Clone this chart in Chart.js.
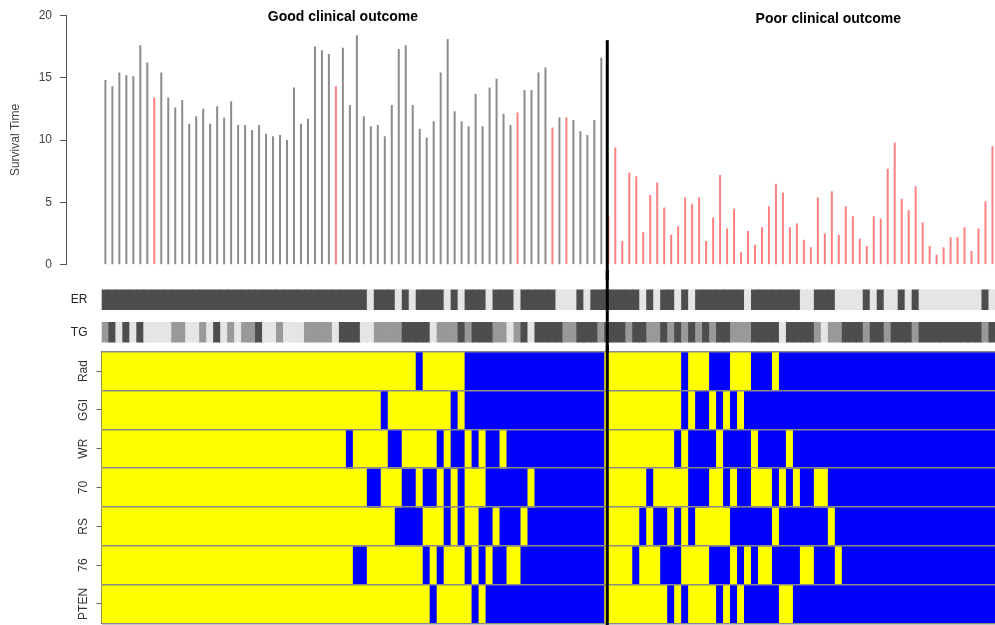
<!DOCTYPE html>
<html>
<head>
<meta charset="utf-8">
<script src="https://cdn.jsdelivr.net/npm/chart.js@4.4.1/dist/chart.umd.min.js"></script>
<style>
html, body { margin: 0; padding: 0; background: #fff; width: 995px; height: 625px; overflow: hidden; }
canvas { position: absolute; left: 0; }
#survival { top: 0; }
#clinical { top: 270px; }
#signatures { top: 345px; }
</style>
</head>
<body>
<canvas id="survival" width="995" height="280"></canvas>
<canvas id="clinical" width="995" height="90"></canvas>
<canvas id="signatures" width="995" height="280"></canvas>
<script>
// survival time per sample, good outcome group first (72), then poor (56)
var survivalTime = [
    14.8, 14.3, 15.4, 15.2, 15.1, 17.6, 16.2, 13.4, 15.4, 13.4,
    12.6, 13.2, 11.3, 11.9, 12.5, 11.3, 12.7, 11.8, 13.1, 11.2,
    11.2, 10.8, 11.2, 10.5, 10.3, 10.4, 10.0, 14.2, 11.3, 11.7,
    17.5, 17.2, 16.9, 14.3, 17.4, 12.8, 18.4, 11.9, 11.1, 11.2,
    10.3, 12.8, 17.3, 17.6, 12.8, 10.9, 10.2, 11.5, 15.4, 18.1,
    12.3, 11.5, 11.1, 13.7, 11.1, 14.2, 14.9, 12.1, 11.2, 12.2,
    14.0, 14.0, 15.4, 15.8, 11.0, 11.8, 11.8, 11.6, 10.7, 10.4,
    11.6, 16.6,
    3.9, 9.4, 1.9, 7.4, 7.1, 2.6, 5.6, 6.6, 4.6, 2.4,
    3.1, 5.4, 4.9, 5.4, 1.9, 3.8, 7.2, 2.9, 4.5, 1.0,
    2.7, 1.6, 3.0, 4.7, 6.5, 5.8, 3.0, 3.3, 2.0, 1.4,
    5.4, 2.5, 5.9, 2.4, 4.7, 3.9, 2.1, 1.5, 3.9, 3.7,
    7.7, 9.8, 5.3, 4.4, 6.3, 3.4, 1.5, 0.8, 1.4, 2.2,
    2.2, 3.0, 1.1, 2.9, 5.1, 9.5
];
// 1 = event (red needle)
var eventStatus = "00000001 00000000 00000000 00000000 01000000 00000000 00000000 00010000 " +
                  "10100000 11111111 11111111 11111111 11111111 11111111 11111111 11111111";

var groupNames = ['Good clinical outcome', 'Poor clinical outcome'];
var groupTitleX = [35.0, 104.5];   // sample position of each group title
var groupTitleY = [19.84, 19.68];  // survival-time level of each group title
var groupSplit = 72.85;            // between sample 72 and 73

var stripNames = ['ER', 'TG'];
var stripRows = [
    "DDDDDDDD DDDDDDDD DDDDDDDD DDDDDDDD DDDDDDLD DDLDLDDD DLDLDDDL DDDLDDDD " +
    "DLLLDLDD DDDDDLDL DDLDLDDD DDDDLDDD DDDDLLDD DLLLLDLD LLDLDLLL LLLLLLDL",
    "MDLDLDLL LLMMLLML DLMLMMDL LMLLLMMM MLDDDLLM MMMDDDDL MMMDMDDD MMLMDLDD " +
    "DDMMDDDM DDDMDDMM DMDMDMDM DDMMMDDD DLDDDDML MMDDDMDD MDDDMDDD DDDDDDMD"
];

var heatNames = ['Rad', 'GGI', 'WR', '70', 'RS', '76', 'PTEN'];
var heatRows = [
    "YYYYYYYY YYYYYYYY YYYYYYYY YYYYYYYY YYYYYYYY YYYYYBYY YYYYBBBB BBBBBBBB " +
    "BBBBBBBB YYYYYYYY YYYBYYYB BBYYYBBB YBBBBBBB BBBBBBBB BBBBBBBB BBBBBBBB",
    "YYYYYYYY YYYYYYYY YYYYYYYY YYYYYYYY YYYYYYYY BYYYYYYY YYBYBBBB BBBBBBBB " +
    "BBBBBBBB YYYYYYYY YYYBYBBY BYBYBBBB BBBBBBBB BBBBBBBB BBBBBBBB BBBBBBBB",
    "YYYYYYYY YYYYYYYY YYYYYYYY YYYYYYYY YYYBYYYY YBBYYYYY BYBBYBYB BYBBBBBB " +
    "BBBBBBBB YYYYYYYY YYBYBBBB YBBBBYBB BBYBBBBB BBBBBBBB BBBBBBBB BBBBBBBB",
    "YYYYYYYY YYYYYYYY YYYYYYYY YYYYYYYY YYYYYYBB YYYBBYBB YBYBYYYB BBBBBYBB " +
    "BBBBBBBB YYYYYYBY YYYYBBBY YBYBBYYY BYBYBBYY BBBBBBBB BBBBBBBB BBBBBBBB",
    "YYYYYYYY YYYYYYYY YYYYYYYY YYYYYYYY YYYYYYYY YYBBBBYY YBYBYYBB YBBBYBBB " +
    "BBBBBBBB YYYYYBYB BYBYBYYY YYBBBBBB YBBBBBBB YBBBBBBB BBBBBBBB BBBBBBBB",
    "YYYYYYYY YYYYYYYY YYYYYYYY YYYYYYYY YYYYBBYY YYYYYYBY BYYYBYBY BBYYBBBB " +
    "BBBBBBBB YYYYBYYY BBBYYYYB BBYBYBYY BBBBYYBB BYBBBBBB BBBBBBBB BBBBBBBB",
    "YYYYYYYY YYYYYYYY YYYYYYYY YYYYYYYY YYYYYYYY YYYYYYYB YYYYYBYB BBBBBBBB " +
    "BBBBBBBB YYYYYYYY YBYBYYYY BYBYBBBB BYYBBBBB BBBBBBBB BBBBBBBB BBBBBBBB"
];

var needleColors = { '0': '#8c8c8c', '1': '#ff8080' };
var stripColors = { D: '#4d4d4d', M: '#999999', L: '#e5e5e5' };
var heatColors = { Y: '#ffff00', B: '#0000ff' };

function codes(s) { return s.replace(/\s/g, '').split(''); }

var sampleIds = survivalTime.map(function (v, i) { return i + 1; });

// shared horizontal mapping: every chart puts sample cells at the same pixels
var cellLeft = 101.9, cellWidth = 6.985, pageWidth = 995;
function xLimits(areaLeft) {
    return {
        type: 'linear', display: false, offset: false,
        grid: { offset: false },
        bounds: 'data',
        min: 0.5 - (cellLeft - areaLeft) / cellWidth,
        max: 0.5 + (pageWidth - cellLeft) / cellWidth
    };
}

Chart.defaults.font.family = '"Liberation Sans", Arial, Helvetica, sans-serif';
Chart.defaults.font.size = 12;
Chart.defaults.color = '#333';

var splitLine = {
    id: 'splitLine',
    afterDraw: function (chart, args, opts) {
        var ctx = chart.ctx;
        var x = chart.scales.x.getPixelForValue(groupSplit);
        var top = opts.from == null ? 0 : chart.scales.y.getPixelForValue(opts.from);
        ctx.save();
        ctx.strokeStyle = '#000';
        ctx.lineWidth = 3;
        ctx.beginPath();
        ctx.moveTo(x, top);
        ctx.lineTo(x, chart.height);
        ctx.stroke();
        ctx.restore();
    }
};

var groupTitles = {
    id: 'groupTitles',
    afterDraw: function (chart) {
        var ctx = chart.ctx;
        ctx.save();
        ctx.font = 'bold 14px "Liberation Sans", Arial, sans-serif';
        ctx.fillStyle = '#000';
        ctx.textAlign = 'center';
        ctx.textBaseline = 'middle';
        groupNames.forEach(function (name, g) {
            ctx.fillText(name, chart.scales.x.getPixelForValue(groupTitleX[g]),
                chart.scales.y.getPixelForValue(groupTitleY[g]));
        });
        ctx.restore();
    }
};

// survival needles
new Chart(document.getElementById('survival'), {
    type: 'bar',
    data: {
        datasets: [{
            data: sampleIds.map(function (s, i) { return { x: s, y: survivalTime[i] }; }),
            backgroundColor: codes(eventStatus).map(function (c) { return needleColors[c]; }),
            barThickness: 2,
            inflateAmount: 0
        }]
    },
    options: {
        responsive: false,
        animation: false,
        layout: { padding: { top: 15, bottom: 13, left: 0, right: 0 } },
        plugins: {
            legend: { display: false },
            tooltip: { enabled: false },
            splitLine: { from: 18 }
        },
        scales: {
            x: xLimits(66),
            y: {
                min: 0,
                max: 20,
                ticks: { stepSize: 5, padding: 8, color: '#444' },
                grid: { drawOnChartArea: false, tickLength: 6, color: '#555' },
                border: { color: '#555' },
                title: { display: true, text: 'Survival Time', color: '#444', padding: { top: 8 } },
                afterFit: function (s) { s.width = 66; }
            }
        }
    },
    plugins: [splitLine, groupTitles]
});

// ER / TG strips
var stripHalf = 0.3;
new Chart(document.getElementById('clinical'), {
    type: 'bar',
    data: {
        datasets: stripRows.map(function (row, r) {
            return {
                label: stripNames[r],
                data: sampleIds.map(function (s) { return { x: s, y: [r + 0.5 - stripHalf, r + 0.5 + stripHalf] }; }),
                backgroundColor: codes(row).map(function (c) { return stripColors[c]; }),
                grouped: false,
                barPercentage: 1,
                categoryPercentage: 1,
                inflateAmount: 0.5,
                borderWidth: 0
            };
        })
    },
    options: {
        responsive: false,
        animation: false,
        layout: { padding: { top: 13.5, bottom: 11.5, left: 0, right: 0 } },
        plugins: { legend: { display: false }, tooltip: { enabled: false }, splitLine: {} },
        scales: {
            x: xLimits(101.5),
            y: {
                min: 0,
                max: stripNames.length,
                reverse: true,
                afterBuildTicks: function (s) {
                    s.ticks = stripNames.map(function (n, i) { return { value: i + 0.5 }; });
                },
                ticks: { callback: function (v, i) { return stripNames[i]; }, padding: 14, color: '#222', autoSkip: false },
                grid: { display: false, drawTicks: false },
                border: { display: false },
                afterFit: function (s) { s.width = 101.5; s.paddingTop = 0; s.paddingBottom = 0; }
            }
        }
    },
    plugins: [splitLine]
});

// signature heatmap
new Chart(document.getElementById('signatures'), {
    type: 'bar',
    data: {
        datasets: heatRows.map(function (row, r) {
            return {
                label: heatNames[r],
                yAxisID: 'y',
                data: sampleIds.map(function (s) { return { x: s, y: [r, r + 1] }; }),
                backgroundColor: codes(row).map(function (c) { return heatColors[c]; }),
                borderWidth: 0,
                grouped: false,
                barPercentage: 1,
                categoryPercentage: 1,
                inflateAmount: 0.5
            };
        })
    },
    options: {
        responsive: false,
        animation: false,
        layout: { padding: { top: 6.7, bottom: 1.7, left: 0, right: 0 } },
        plugins: { legend: { display: false }, tooltip: { enabled: false }, splitLine: {} },
        scales: {
            x: xLimits(101.5),
            y: {
                min: 0,
                max: heatNames.length,
                reverse: true,
                afterBuildTicks: function (s) {
                    s.ticks = heatNames.map(function (n, i) { return { value: i + 0.5 }; });
                },
                ticks: {
                    callback: function (v, i) { return heatNames[i]; },
                    minRotation: 90, maxRotation: 90, crossAlign: 'center',
                    padding: -3.5, color: '#333', autoSkip: false
                },
                grid: { drawOnChartArea: false, tickLength: 5, color: '#666' },
                border: { color: '#666' },
                afterFit: function (s) { s.width = 101.5; s.paddingTop = 0; s.paddingBottom = 0; }
            },
            // row separators drawn above the cells
            yRows: {
                type: 'linear',
                axis: 'y',
                position: 'left',
                min: 0,
                max: heatNames.length,
                reverse: true,
                afterBuildTicks: function (s) {
                    var t = [];
                    for (var i = 0; i <= heatNames.length; i++) t.push({ value: i });
                    s.ticks = t;
                },
                ticks: { display: false },
                grid: { drawTicks: false, color: '#8a8a8a', lineWidth: 1.5, z: 1 },
                border: { display: false },
                afterFit: function (s) { s.width = 0; s.paddingTop = 0; s.paddingBottom = 0; }
            }
        }
    },
    plugins: [splitLine]
});
</script>
</body>
</html>
